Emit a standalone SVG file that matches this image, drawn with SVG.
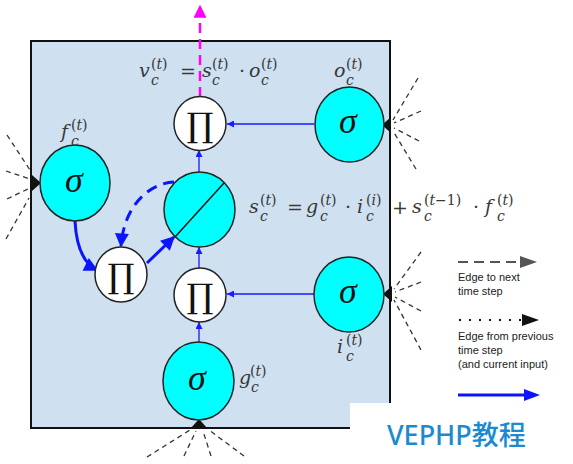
<svg xmlns="http://www.w3.org/2000/svg" width="573" height="464" viewBox="0 0 573 464">
<style>
.m{font-family:"DejaVu Serif","Liberation Serif",serif;font-style:italic;font-size:19px;fill:#383838}
.s{font-size:14px}
.u{font-style:normal}
.sig{fill:#00ffff;stroke:#222;stroke-width:1.5}
.mul{fill:#ffffff;stroke:#222;stroke-width:1.5}
.sg{font-family:"Liberation Serif","DejaVu Serif",serif;font-style:italic;font-size:36px;fill:#111;text-anchor:middle}
.pi{font-family:"DejaVu Serif","Liberation Serif",serif;font-size:34px;fill:#111;text-anchor:middle}
.thin{fill:none;stroke:#1a1aff;stroke-width:1.3}
.thick{fill:none;stroke:#0a14ff;stroke-width:3}
.fan{fill:none;stroke:#333;stroke-width:1.3;stroke-dasharray:5,4}
.leg{font-family:"Liberation Sans",Arial,sans-serif;font-size:11px;fill:#222}
</style>
<defs>
<marker id="aThin" viewBox="0 0 10 10" refX="10" refY="5" markerWidth="9" markerHeight="7" markerUnits="userSpaceOnUse" orient="auto"><path d="M0,0 L10,5 L0,10 z" fill="#1a1aff"/></marker>
<marker id="aThick" viewBox="0 0 10 10" refX="9" refY="5" markerWidth="16" markerHeight="14" markerUnits="userSpaceOnUse" orient="auto"><path d="M0,0 L10,5 L0,10 z" fill="#0a14ff"/></marker>
<marker id="aMag" viewBox="0 0 10 10" refX="9" refY="5" markerWidth="18" markerHeight="13" markerUnits="userSpaceOnUse" orient="auto"><path d="M0,0 L10,5 L0,10 z" fill="#ff00ff"/></marker>
</defs>
<rect width="573" height="464" fill="#ffffff"/>
<!-- cell box -->
<rect id="box" x="31" y="41" width="359" height="387" fill="#cfe0f1" stroke="#111" stroke-width="2"/>

<!-- fans -->
<g id="fans">
<path class="fan" d="M7,135 L30,170 M6,171 L30,179 M7,199 L30,188 M6,239 L29,198"/>
<path class="fan" d="M418,78 L393,120 M421,111 L394,123 M419,141 L394,128 M416,169 L393,131"/>
<path class="fan" d="M421,252 L394,289 M421,282 L395,292 M421,311 L395,297 M421,350 L394,300"/>
<path class="fan" d="M147,457 L190,430 M184,456 L196,431 M211,456 L203,431 M244,456 L209,430"/>
<path d="M32,175 L41,183 L32,191 z" fill="#111"/>
<path d="M391,117 L382,125 L391,133 z" fill="#111"/>
<path d="M392,286 L383,294 L392,302 z" fill="#111"/>
<path d="M191,428 L199,419 L207,428 z" fill="#111"/>
</g>

<!-- connectors -->
<g id="connectors">
<line class="thin" x1="314" y1="124" x2="227" y2="124" marker-end="url(#aThin)"/>
<line class="thin" x1="314" y1="294" x2="227" y2="294" marker-end="url(#aThin)"/>
<line class="thin" x1="199" y1="342" x2="199" y2="322" marker-end="url(#aThin)"/>
<line class="thin" x1="199" y1="268" x2="199" y2="247" marker-end="url(#aThin)"/>
<line class="thin" x1="199" y1="172" x2="199" y2="150" marker-end="url(#aThin)"/>
<path class="thick" d="M75,221 Q77,260 97,270" marker-end="url(#aThick)"/>
<path class="thick" d="M147,263 L174,237" marker-end="url(#aThick)"/>
<path class="thick" d="M174,182 C150,183 124,205 121,246" stroke-dasharray="11,7" marker-end="url(#aThick)"/>
<line x1="200" y1="97" x2="200" y2="6" stroke="#ff00ff" stroke-width="2.5" stroke-dasharray="10,6" marker-end="url(#aMag)"/>
</g>

<!-- nodes -->
<g id="sigma-o"><ellipse class="sig" cx="349.5" cy="124.5" rx="34.5" ry="37.5"/><text class="sg" x="348" y="133">σ</text></g>
<g id="sigma-i"><ellipse class="sig" cx="349" cy="294.5" rx="35" ry="37.5"/><text class="sg" x="348" y="303">σ</text></g>
<g id="sigma-g"><ellipse class="sig" cx="198.5" cy="381" rx="35.5" ry="39"/><text class="sg" x="197" y="390">σ</text></g>
<g id="sigma-f"><ellipse class="sig" cx="75" cy="183" rx="35" ry="38"/><text class="sg" x="74" y="192">σ</text></g>
<g id="cell"><ellipse class="sig" cx="199.5" cy="209.5" rx="35.5" ry="37.5"/><line x1="175" y1="237" x2="224" y2="183" stroke="#111" stroke-width="1.5"/></g>
<g id="mul-out"><ellipse class="mul" cx="200" cy="123.5" rx="26" ry="27"/><text class="pi" x="200" y="137">∏</text></g>
<g id="mul-f"><ellipse class="mul" cx="121" cy="274.5" rx="26" ry="27.5"/><text class="pi" x="121" y="288">∏</text></g>
<g id="mul-in"><ellipse class="mul" cx="200" cy="295" rx="26" ry="27"/><text class="pi" x="200" y="308">∏</text></g>

<!-- math labels -->
<text class="m" id="lbl-v"><tspan x="139" y="77">v</tspan><tspan class="s" x="151" y="85">c</tspan><tspan class="s" x="151" y="69"><tspan class="u">(</tspan>t<tspan class="u">)</tspan></tspan><tspan class="u" x="180" y="78">=</tspan><tspan x="202" y="77">s</tspan><tspan class="s" x="212" y="85">c</tspan><tspan class="s" x="212" y="69"><tspan class="u">(</tspan>t<tspan class="u">)</tspan></tspan><tspan class="u" x="239" y="77">·</tspan><tspan x="249" y="77">o</tspan><tspan class="s" x="261" y="85">c</tspan><tspan class="s" x="261" y="69"><tspan class="u">(</tspan>t<tspan class="u">)</tspan></tspan></text>

<text class="m" id="lbl-o"><tspan x="334" y="77">o</tspan><tspan class="s" x="346" y="85">c</tspan><tspan class="s" x="346" y="69"><tspan class="u">(</tspan>t<tspan class="u">)</tspan></tspan></text>

<text class="m" id="lbl-f"><tspan x="61" y="138">f</tspan><tspan class="s" x="71" y="146">c</tspan><tspan class="s" x="71" y="130"><tspan class="u">(</tspan>t<tspan class="u">)</tspan></tspan></text>

<text class="m" id="lbl-s"><tspan x="249" y="213">s</tspan><tspan class="s" x="260" y="221">c</tspan><tspan class="s" x="260" y="205"><tspan class="u">(</tspan>t<tspan class="u">)</tspan></tspan><tspan class="u" x="287" y="214">=</tspan><tspan x="306" y="213">g</tspan><tspan class="s" x="320" y="221">c</tspan><tspan class="s" x="320" y="205"><tspan class="u">(</tspan>t<tspan class="u">)</tspan></tspan><tspan class="u" x="345" y="213">·</tspan><tspan x="357" y="213">i</tspan><tspan class="s" x="366" y="221">c</tspan><tspan class="s" x="366" y="205"><tspan class="u">(</tspan>i<tspan class="u">)</tspan></tspan><tspan class="u" x="392" y="214">+</tspan><tspan x="412" y="213">s</tspan><tspan class="s" x="424" y="221">c</tspan><tspan class="s" x="424" y="205"><tspan class="u">(</tspan>t<tspan class="u">−1)</tspan></tspan><tspan class="u" x="473" y="213">·</tspan><tspan x="485" y="213">f</tspan><tspan class="s" x="497" y="221">c</tspan><tspan class="s" x="497" y="205"><tspan class="u">(</tspan>t<tspan class="u">)</tspan></tspan></text>

<text class="m" id="lbl-i"><tspan x="337" y="353">i</tspan><tspan class="s" x="346" y="361">c</tspan><tspan class="s" x="346" y="345"><tspan class="u">(</tspan>t<tspan class="u">)</tspan></tspan></text>

<text class="m" id="lbl-g"><tspan x="239" y="384">g</tspan><tspan class="s" x="251" y="392">c</tspan><tspan class="s" x="250" y="376"><tspan class="u">(</tspan>t<tspan class="u">)</tspan></tspan></text>

<!-- legend -->
<g id="legend">
<line x1="458" y1="262" x2="522" y2="262" stroke="#555" stroke-width="2" stroke-dasharray="10,6"/>
<path d="M520,256 L537,262 L520,268 z" fill="#555"/>
<text class="leg" x="458" y="281">Edge to next</text>
<text class="leg" x="458" y="295">time step</text>
<line x1="459" y1="320" x2="522" y2="320" stroke="#111" stroke-width="2" stroke-dasharray="2,8"/>
<path d="M522,314 L539,320 L522,326 z" fill="#111"/>
<text class="leg" x="458" y="340">Edge from previous</text>
<text class="leg" x="458" y="354">time step</text>
<text class="leg" x="458" y="368">(and current input)</text>
<line x1="458" y1="395" x2="526" y2="395" stroke="#0a14ff" stroke-width="3"/>
<path d="M524,389 L540,395 L524,401 z" fill="#0a14ff"/>
</g>

<!-- watermark -->
<g id="watermark">
<rect x="350" y="403" width="223" height="61" fill="#ffffff"/>
<text x="387" y="445" font-family="'Noto Sans','Noto Sans CJK SC',sans-serif" font-size="27" font-weight="500" fill="#1a8bcf">VEPHP教程</text>
</g>
</svg>
